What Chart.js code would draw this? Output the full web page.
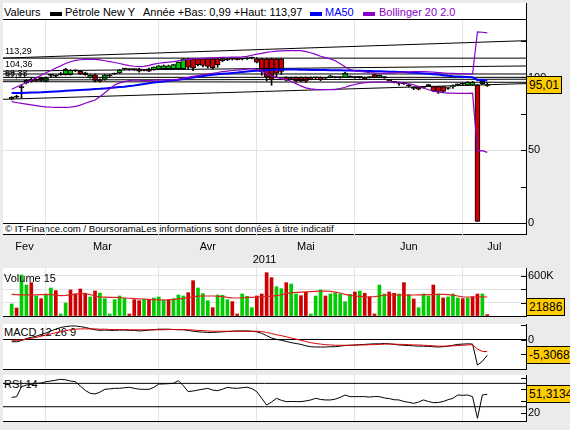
<!DOCTYPE html>
<html>
<head>
<meta charset="utf-8">
<title>Pétrole New York</title>
<script src="https://cdn.jsdelivr.net/npm/chart.js@4.4.1/dist/chart.umd.min.js"></script>
<style>
  html, body { margin: 0; padding: 0; }
  body { width: 570px; height: 430px; background: #ebebeb; position: relative; overflow: hidden;
         font-family: "Liberation Sans", Arial, sans-serif; font-size: 11px; color: #000; }
  .panel { position: absolute; left: 3px; width: 523px; background: #fff; border-right: 1px solid #000; }
  canvas { position: absolute; left: 3px; }
  .txt { position: absolute; white-space: nowrap; line-height: 13px; }
  .top { z-index: 2; }
  .mark { position: absolute; width: 12px; height: 4px; }
  .lvl { position: absolute; left: 5px; font-size: 9px; line-height: 10px; white-space: nowrap; }
  .box { position: absolute; left: 526px; height: 16px; line-height: 16px; padding: 0 2px;
         background: #ffcc00; border: 1px solid #000; font-size: 12px; white-space: nowrap; }
</style>
</head>
<body>
<div class="panel" style="top:3px;height:231px;border-bottom:1px solid #000"></div>
<div class="panel" style="top:268px;height:48px"></div>
<div class="panel" style="top:324px;height:45px"></div>
<div class="panel" style="top:375px;height:46px"></div>
<div style="position:absolute;left:3px;top:19px;width:523px;height:1px;background:#000"></div>

<div class="txt" style="left:4px;top:6px">Valeurs</div>
<div class="mark" style="left:50px;top:12px;background:#000"></div>
<div class="txt" style="left:65px;top:6px">Pétrole New Y</div>
<div class="txt" style="left:143px;top:6px">Année +Bas: 0,99 +Haut: 113,97</div>
<div class="mark" style="left:310px;top:12px;background:#0000ff"></div>
<div class="txt" style="left:325px;top:6px;color:#0000ff">MA50</div>
<div class="mark" style="left:363px;top:12px;background:#8a00c8"></div>
<div class="txt" style="left:379px;top:6px;color:#8a00c8">Bollinger 20 2.0</div>

<div class="txt" style="left:5px;top:223px;font-size:9.6px;line-height:11px">© IT-Finance.com / BoursoramaLes informations sont données à titre indicatif</div>
<div class="txt top" style="left:4px;top:272px">Volume 15</div>
<div class="txt" style="left:4px;top:326px">MACD 12 26 9</div>
<div class="txt" style="left:4px;top:378px">RSI 14</div>

<canvas id="cPrice" width="567" height="252" style="top:20px"></canvas>
<canvas id="cVol" width="567" height="49" style="top:268px"></canvas>
<canvas id="cMacd" width="567" height="46" style="top:324px"></canvas>
<canvas id="cRsi" width="567" height="47" style="top:375px"></canvas>

<script>
// Daily sessions, 17 Feb 2011 -> early July 2011 (index 0..97)
const monthStarts = [7, 30, 50, 70, 92];
const monthNames = ['Fev', 'Mar', 'Avr', 'Mai', 'Jun', 'Jul'];
const yearLabel = '2011';

const openP = [
  85.2, 86.5, 93.0, 96.2, 98.8, 98.8, 99.4, 97.4, 101.4, 101.0,
  101.9, 101.9, 101.9, 104.6, 104.3, 103.2, 100.1, 101.9, 98.4, 98.6,
  101.2, 102.4, 103.1, 105.7, 105.6, 105.5, 106.0, 105.1, 106.0, 105.4,
  105.9, 106.0, 106.0, 106.0, 106.0, 106.0, 112.9, 112.9, 112.9, 112.9,
  112.9, 112.9, 112.9, 112.9, 112.3, 112.7, 113.0, 112.6, 112.9, 113.4,
  112.9, 112.9, 112.9, 112.9, 112.9, 112.9, 100.1, 99.6, 100.1, 100.1,
  100.1, 100.1, 99.8, 100.1, 99.5, 100.1, 100.2, 100.0, 100.1, 100.5,
  100.2, 100.1, 100.1, 100.0, 102.0, 100.1, 100.1, 98.3, 96.9, 96.3,
  96.0, 94.6, 93.2, 93.6, 93.4, 94.8, 93.7, 93.7, 93.7, 92.6,
  93.5, 95.0, 95.5, 94.8, 94.8, 94.8, 95.7, 94.3
];
const highP = [
  86.8, 87.9, 95.0, 98.6, 99.4, 99.3, 99.9, 100.2, 102.2, 101.8,
  103.5, 106.3, 105.4, 105.3, 104.9, 103.6, 102.0, 102.3, 99.0, 102.0,
  101.9, 103.0, 105.4, 106.2, 106.0, 106.0, 106.3, 105.6, 106.4, 107.4,
  108.3, 108.6, 108.5, 109.1, 110.8, 113.1, 113.2, 113.2, 113.2, 113.2,
  113.2, 113.2, 113.2, 113.3, 113.0, 113.3, 113.6, 113.2, 113.5, 113.97,
  113.6, 113.2, 113.2, 113.2, 113.2, 113.2, 100.5, 100.3, 100.4, 100.4,
  100.4, 100.4, 100.3, 100.4, 100.0, 101.6, 100.6, 100.4, 103.5, 101.0,
  100.6, 100.5, 100.4, 100.6, 102.3, 101.8, 100.5, 98.6, 97.4, 96.8,
  96.5, 95.2, 93.6, 94.0, 93.9, 95.2, 94.0, 94.0, 94.0, 93.0,
  95.0, 95.5, 96.0, 97.2, 97.3, 95.2, 98.0, 96.5
];
const lowP = [
  84.6, 85.9, 86.0, 95.6, 96.8, 97.4, 97.4, 96.9, 100.0, 100.4,
  101.5, 101.6, 101.6, 104.0, 102.0, 101.5, 99.6, 96.9, 96.8, 98.2,
  100.6, 102.0, 102.8, 105.2, 105.0, 104.9, 103.6, 104.5, 104.0, 105.0,
  105.5, 105.6, 105.6, 105.6, 105.6, 105.6, 105.4, 104.7, 108.0, 107.2,
  106.5, 105.8, 107.0, 110.8, 111.6, 112.0, 112.0, 112.0, 112.4, 112.8,
  110.0, 101.5, 97.6, 94.6, 100.5, 102.0, 97.6, 99.0, 96.9, 97.0,
  96.6, 98.4, 99.2, 97.8, 99.0, 99.8, 99.7, 99.5, 99.8, 100.0,
  99.6, 99.5, 98.5, 99.6, 99.8, 99.8, 99.4, 97.4, 96.2, 94.6,
  95.2, 93.5, 91.6, 91.5, 92.6, 94.0, 90.2, 89.0, 89.5, 91.8,
  92.5, 94.5, 94.8, 94.5, 94.5, 0.99, 95.2, 93.8
];
const closeP = [
  86.3, 86.4, 93.4, 98.1, 97.4, 97.9, 97.9, 99.6, 101.6, 100.9,
  102.1, 105.8, 104.9, 104.8, 102.4, 101.9, 101.6, 97.9, 97.4, 101.6,
  101.4, 102.6, 105.0, 105.8, 105.5, 105.4, 104.3, 104.8, 104.3, 107.2,
  108.0, 108.0, 108.0, 108.8, 110.6, 112.9, 107.0, 106.5, 108.8, 108.3,
  107.6, 106.8, 108.8, 111.5, 112.1, 112.5, 112.3, 112.8, 113.0, 113.5,
  110.6, 104.0, 100.3, 98.5, 103.0, 104.2, 98.1, 99.4, 97.6, 97.6,
  97.4, 99.0, 99.9, 98.3, 99.6, 101.2, 100.0, 100.2, 103.1, 100.6,
  100.0, 100.2, 98.9, 100.1, 100.1, 101.4, 99.9, 97.8, 96.7, 95.9,
  95.6, 94.2, 92.4, 92.0, 93.2, 94.4, 90.7, 90.4, 90.4, 92.4,
  94.3, 95.2, 95.4, 96.7, 96.7, 1.0, 97.3, 95.01
];
const ma50 = [
  89.3, 89.3, 89.4, 89.5, 89.6, 89.7, 89.8, 90.0, 90.2, 90.4,
  90.6, 90.8, 91.0, 91.2, 91.4, 91.6, 91.8, 92.0, 92.2, 92.5,
  92.8, 93.1, 93.4, 93.7, 94.1, 94.5, 95.0, 95.5, 96.0, 96.5,
  96.9, 97.3, 97.7, 98.1, 98.5, 99.0, 99.5, 100.0, 100.5, 101.0,
  101.5, 101.9, 102.2, 102.5, 102.8, 103.1, 103.4, 103.8, 104.1, 104.4,
  104.6, 104.8, 105.0, 105.1, 105.3, 105.4, 105.4, 105.4, 105.4, 105.3,
  105.3, 105.2, 105.2, 105.1, 105.1, 105.0, 105.0, 104.9, 104.8, 104.8,
  104.7, 104.6, 104.5, 104.4, 104.3, 104.2, 104.1, 104.0, 103.9, 103.8,
  103.7, 103.5, 103.3, 103.0, 102.8, 102.6, 102.3, 102.0, 101.6, 101.2,
  100.9, 100.7, 100.5, 100.3, 100.1, 98.3, 98.2, 98.0
];
const bollUp = [
  91.9, 93.5, 95.0, 96.5, 98.2, 99.8, 101.5, 103.2, 104.8, 106.5,
  108.0, 109.6, 110.8, 111.8, 112.2, 112.5, 112.6, 112.5, 112.1, 111.5,
  110.9, 110.3, 109.6, 108.8, 108.2, 107.7, 107.5, 107.6, 108.3, 109.2,
  109.8, 110.2, 110.5, 110.9, 111.5, 112.1, 112.5, 112.8, 112.9, 113.1,
  113.3, 113.5, 113.7, 113.8, 113.9, 114.0, 114.0, 114.1, 114.5, 115.3,
  116.0, 116.6, 117.2, 117.7, 118.1, 118.3, 118.4, 118.5, 118.5, 118.4,
  117.8, 117.0, 115.9, 114.6, 113.6, 112.8, 111.5, 109.5, 107.4, 105.5,
  104.6, 104.1, 103.8, 103.4, 103.1, 102.9, 102.8, 103.0, 103.2, 103.5,
  103.7, 103.9, 104.0, 104.0, 104.0, 103.9, 103.7, 103.4, 103.1, 102.9,
  102.8, 102.7, 102.6, 102.5, 102.4, 131.3, 131.1, 130.6
];
const bollDn = [
  83.4, 82.8, 82.2, 81.7, 81.2, 80.7, 80.2, 79.8, 79.6, 79.5,
  79.5, 79.5, 79.6, 80.2, 81.0, 82.3, 83.4, 84.5, 86.8, 89.5,
  92.2, 94.8, 96.3, 97.2, 97.9, 98.3, 98.1, 97.8, 97.9, 98.1,
  98.2, 98.3, 98.4, 98.5, 98.9, 99.5, 100.1, 100.8, 101.3, 101.9,
  102.4, 102.9, 103.4, 104.0, 104.4, 104.8, 105.1, 105.4, 105.7, 106.0,
  105.6, 104.3, 102.8, 101.2, 100.1, 99.2, 98.5, 97.4, 95.8, 94.2,
  92.9, 92.2, 91.8, 91.6, 91.6, 91.6, 91.7, 92.4, 93.3, 94.4,
  95.2, 96.0, 96.4, 96.7, 96.9, 96.9, 96.9, 96.9, 96.9, 96.6,
  96.2, 95.6, 95.0, 93.8, 92.8, 91.6, 90.6, 90.0, 89.6, 89.3,
  89.2, 89.1, 89.1, 89.1, 89.2, 49.5, 49.7, 48.5
];
// support / resistance and channel lines: [startIndex, startValue, endIndex, endValue]
const trendLines = [
  [-1.77, 113.29, 104.9, 113.29],
  [-1.77, 113.29, 104.9, 125.3],
  [-1.77, 104.36, 104.9, 107.9],
  [-1.77, 102.4, 104.9, 102.4],
  [-1.77, 100.1, 104.9, 100.1],
  [-1.77, 98.3, 104.9, 98.8],
  [-1.77, 97.1, 104.9, 96.7],
  [-1.77, 85.0, 104.9, 95.8]
];
const levelLabels = ['113,29', '104,36', '98,33', '97,11'];
const levelValues = [113.29, 104.36, 98.3, 97.1];

// volume in thousands, 1 = up day
const volume = [
  180, 120, 615, 465, 500, 300, 260, 325, 420, 380,
  30, 195, 390, 330, 405, 325, 285, 375, 345, 260,
  30, 245, 300, 265, 30, 245, 230, 250, 250, 270,
  285, 240, 245, 260, 315, 300, 350, 530, 420, 335,
  230, 125, 315, 310, 245, 215, 30, 330, 295, 125,
  300, 330, 650, 575, 440, 410, 500, 480, 330, 305,
  355, 30, 300, 390, 300, 330, 345, 330, 215, 325,
  360, 375, 340, 290, 30, 465, 330, 360, 340, 330,
  500, 320, 255, 125, 330, 300, 465, 330, 270, 285,
  330, 270, 260, 270, 290, 330, 330, 21.886
];
const volUp = [
  1, 0, 1, 1, 0, 1, 0, 1, 1, 0,
  1, 1, 0, 0, 0, 0, 1, 0, 1, 1,
  1, 1, 1, 1, 0, 0, 0, 1, 0, 1,
  1, 1, 0, 1, 1, 1, 0, 0, 1, 1,
  1, 0, 1, 1, 1, 0, 0, 1, 1, 1,
  0, 0, 0, 0, 1, 1, 0, 1, 1, 0,
  0, 1, 1, 1, 0, 1, 1, 1, 1, 1,
  0, 1, 0, 0, 0, 1, 1, 0, 0, 1,
  0, 1, 0, 1, 1, 1, 0, 1, 0, 1,
  1, 1, 0, 1, 0, 0, 1, 0
];
const volMA15 = [
  325, 322, 318, 316, 315, 317, 320, 324, 322, 312,
  305, 308, 318, 328, 336, 340, 322, 300, 285, 282,
  280, 278, 275, 270, 266, 262, 258, 255, 250, 246,
  243, 240, 244, 250, 258, 265, 275, 288, 298, 300,
  300, 300, 299, 290, 280, 272, 270, 274, 278, 280,
  283, 286, 290, 298, 306, 315, 340, 348, 353, 358,
  362, 366, 370, 374, 375, 368, 358, 345, 325, 310,
  300, 294, 288, 285, 290, 300, 312, 315, 315, 316,
  315, 314, 315, 316, 318, 320, 322, 324, 325, 322,
  312, 300, 288, 285, 285, 285, 286, 285
];
const macd = [
  -0.7, -0.7, -0.3, 0.4, 0.8, 1.2, 1.8, 2.3, 3.0, 3.6,
  4.2, 4.5, 4.7, 4.7, 4.5, 4.2, 3.8, 3.4, 3.2, 3.3,
  3.2, 3.2, 3.3, 3.3, 3.2, 3.2, 3.0, 3.1, 3.3, 3.4,
  3.6, 3.6, 3.6, 3.5, 3.4, 3.4, 3.2, 2.9, 2.7, 2.6,
  2.5, 2.5, 2.6, 2.7, 2.8, 2.9, 3.0, 3.0, 3.0, 2.9,
  2.7, 2.2, 1.4, 0.6, 0.1, -0.2, -0.6, -1.0, -1.3, -1.6,
  -2.1, -2.4, -2.5, -2.5, -2.5, -2.4, -2.4, -2.2, -2.0, -1.9,
  -1.8, -1.7, -1.6, -1.5, -1.4, -1.4, -1.3, -1.4, -1.6, -1.8,
  -1.9, -2.0, -2.1, -2.2, -2.2, -2.3, -2.4, -2.5, -2.4, -2.2,
  -1.9, -1.6, -1.5, -1.4, -1.5, -8.7, -7.4, -5.3068
];
const macdSignal = [
  -0.2, -0.2, -0.1, 0.2, 0.5, 0.8, 1.2, 1.6, 2.0, 2.4,
  2.8, 3.1, 3.4, 3.6, 3.7, 3.7, 3.7, 3.7, 3.6, 3.6,
  3.5, 3.5, 3.5, 3.5, 3.4, 3.4, 3.4, 3.4, 3.4, 3.4,
  3.4, 3.4, 3.5, 3.5, 3.5, 3.5, 3.4, 3.3, 3.2, 3.1,
  3.0, 2.9, 2.9, 2.9, 2.9, 2.9, 2.9, 2.9, 2.9, 2.9,
  2.9, 2.8, 2.5, 2.1, 1.7, 1.4, 1.0, 0.6, 0.2, -0.2,
  -0.6, -1.0, -1.3, -1.5, -1.7, -1.8, -1.9, -1.9, -1.9, -1.9,
  -1.9, -1.8, -1.8, -1.7, -1.7, -1.6, -1.5, -1.5, -1.5, -1.6,
  -1.6, -1.7, -1.8, -1.8, -1.9, -2.0, -2.1, -2.2, -2.2, -2.2,
  -2.1, -2.0, -1.9, -1.8, -1.7, -3.2, -4.0, -4.1
];
const rsi = [
  46.1, 47.0, 64.3, 67.1, 68.0, 70.0, 70.5, 72.9, 74.0, 75.5,
  76.9, 76.0, 74.0, 72.9, 65.4, 58.0, 53.0, 51.8, 55.0, 59.8,
  60.5, 61.5, 61.5, 62.5, 63.2, 61.5, 60.0, 59.8, 59.8, 63.2,
  68.9, 69.0, 69.5, 70.0, 74.6, 66.0, 55.8, 57.0, 58.6, 60.0,
  61.5, 58.5, 57.5, 60.0, 63.2, 62.0, 61.5, 62.5, 63.5, 61.0,
  55.8, 44.4, 33.0, 38.0, 44.4, 41.0, 38.7, 39.0, 38.8, 38.7,
  40.0, 41.6, 44.4, 42.5, 41.6, 41.6, 43.0, 46.0, 50.1, 47.3,
  47.3, 47.3, 47.3, 46.5, 47.5, 47.3, 45.0, 44.0, 42.0, 41.6,
  39.0, 37.5, 35.8, 38.0, 41.6, 39.0, 37.0, 37.3, 39.0, 42.0,
  44.4, 50.1, 49.5, 50.1, 47.3, 10.2, 50.1, 51.3134
];
const rsiLevels = [70, 30];

const priceTicks = [0, 25, 50, 75, 100, 125];
const volTicks = [0, 200, 400, 600];
const macdTicks = [5, 0, -5, -10];
const rsiTicks = [80, 60, 40, 20];

// ---------------------------------------------------------------
Chart.defaults.font.family = '"Liberation Sans", Arial, sans-serif';
Chart.defaults.font.size = 11;
Chart.defaults.color = '#000';

const UP = '#00cc00', DOWN = '#cc0000', GRID = '#e3e3e3';
const BLUE = '#0000ff', PURPLE = '#8a00c8';
const X_MIN = -1.77, X_MAX = 104.9;
const idx = closeP.map((_, i) => i);
const xy = arr => arr.map((v, i) => ({ x: i, y: v }));

// month labels sit halfway between month starts
const edges = [X_MIN, ...monthStarts, X_MAX];
const monthMid = monthNames.map((_, k) => (edges[k] + edges[k + 1]) / 2);

function noPad(s) { s.paddingLeft = 0; s.paddingRight = 0; s.paddingTop = 0; s.paddingBottom = 0; }

function xAxis(height, tickLen) {
  return {
    type: 'linear', min: X_MIN, max: X_MAX, offset: false, weight: 0,
    afterBuildTicks: s => { s.ticks = monthStarts.map(v => ({ value: v })); },
    ticks: { display: false },
    grid: { color: GRID, offset: false, drawTicks: tickLen > 0, tickLength: tickLen, tickColor: GRID },
    border: { display: true, color: '#000' },
    afterFit: s => { s.height = height; noPad(s); }
  };
}

function yAxis(min, max, tickVals, label, gridColor) {
  return {
    position: 'right', min, max,
    afterBuildTicks: s => { s.ticks = tickVals.map(v => ({ value: v })); },
    ticks: { callback: label, padding: 2, autoSkip: false, maxRotation: 0 },
    grid: { color: c => gridColor(c.tick ? c.tick.value : null), drawTicks: false },
    border: { display: true, color: '#000' },
    afterFit: s => { s.width = 44; noPad(s); }
  };
}

// short tick marks drawn inside the plot against the right border
const innerTicks = {
  id: 'innerTicks',
  afterDraw(chart) {
    const s = chart.scales.y, ctx = chart.ctx, r = chart.chartArea.right;
    ctx.save();
    ctx.strokeStyle = '#000';
    ctx.lineWidth = 1;
    s.ticks.forEach(t => {
      const y = Math.round(s.getPixelForValue(t.value)) + 0.5;
      ctx.beginPath(); ctx.moveTo(r - 5, y); ctx.lineTo(r, y); ctx.stroke();
    });
    ctx.restore();
  }
};

const base = {
  responsive: false, animation: false, devicePixelRatio: 1,
  layout: { padding: 0, autoPadding: false },
  plugins: { legend: { display: false }, tooltip: { enabled: false } },
  elements: { point: { radius: 0 }, line: { tension: 0 } }
};

function line(data, color, width, order) {
  return { type: 'line', data, borderColor: color, borderWidth: width, pointRadius: 0, fill: false, order };
}

// ---- price panel
const candleColors = idx.map(i => Math.abs(closeP[i] - openP[i]) < 0.45 ? '#000' : (closeP[i] > openP[i] ? UP : DOWN));
const priceChart = new Chart(document.getElementById('cPrice'), {
  type: 'bar',
  data: {
    datasets: [
      ...trendLines.map(t => line([{ x: t[0], y: t[1] }, { x: t[2], y: t[3] }], '#000', 1, 2)),
      line(xy(ma50), BLUE, 2, 1),
      line(xy(bollUp), PURPLE, 1.2, 0),
      line(xy(bollDn), PURPLE, 1.2, 0),
      { type: 'bar', data: idx.map(i => ({ x: i, y: [openP[i], closeP[i]] })), backgroundColor: candleColors,
        borderColor: '#000', borderWidth: 1, borderSkipped: false, barThickness: 5, minBarLength: 1, grouped: false, order: 5 },
      { type: 'bar', data: idx.map(i => ({ x: i, y: [lowP[i], highP[i]] })), backgroundColor: '#000',
        barThickness: 1, grouped: false, order: 6 }
    ]
  },
  options: Object.assign({}, base, {
    scales: {
      x: xAxis(15, 14),
      xm: {
        type: 'linear', position: 'bottom', min: X_MIN, max: X_MAX, offset: false, weight: 1,
        afterBuildTicks: s => { s.ticks = monthMid.map(v => ({ value: v })); },
        ticks: { callback: (v, k) => monthNames[k], autoSkip: false, maxRotation: 0, padding: 2 },
        grid: { display: false, drawTicks: false, offset: false },
        border: { display: false },
        title: { display: true, text: yearLabel, padding: { top: 0, bottom: 5 } },
        afterFit: s => { s.height = 34; noPad(s); }
      },
      y: yAxis(0, 139.5, priceTicks, v => (v % 50 === 0 ? String(v) : ''),
        v => (v === 50 || v === 100 ? GRID : 'rgba(0,0,0,0)'))
    }
  }),
  plugins: [innerTicks]
});

// ---- volume panel
const volChart = new Chart(document.getElementById('cVol'), {
  type: 'bar',
  data: {
    datasets: [
      line(xy(volMA15), '#dd2222', 1.2, 0),
      { type: 'bar', data: xy(volume), backgroundColor: volUp.map(u => (u ? UP : DOWN)),
        barThickness: 3, grouped: false, order: 1 }
    ]
  },
  options: Object.assign({}, base, {
    scales: {
      x: xAxis(1, 0),
      y: yAxis(0, 720, volTicks, v => (v === 600 ? '600K' : ''), v => (v > 0 ? GRID : 'rgba(0,0,0,0)'))
    }
  }),
  plugins: [innerTicks]
});

// ---- MACD panel
const macdChart = new Chart(document.getElementById('cMacd'), {
  type: 'line',
  data: {
    datasets: [
      line(xy(macd), '#000', 1, 1),
      line(xy(macdSignal), '#dd0000', 1, 0)
    ]
  },
  options: Object.assign({}, base, {
    scales: {
      x: xAxis(1, 0),
      y: yAxis(-10.03, 5.38, macdTicks, v => (v === 0 ? '0' : ''), v => (v === 0 ? '#000' : 'rgba(0,0,0,0)'))
    }
  }),
  plugins: [innerTicks]
});

// ---- RSI panel
const rsiChart = new Chart(document.getElementById('cRsi'), {
  type: 'line',
  data: {
    datasets: [
      ...rsiLevels.map(v => line([{ x: X_MIN, y: v }, { x: X_MAX, y: v }], '#000', 1, 1)),
      line(xy(rsi), '#000', 1, 0)
    ]
  },
  options: Object.assign({}, base, {
    scales: {
      x: xAxis(1, 0),
      y: yAxis(5.6, 84.3, rsiTicks, v => (v === 20 ? '20' : ''), () => 'rgba(0,0,0,0)')
    }
  }),
  plugins: [innerTicks]
});

// ---- last-value boxes and level labels
function addDiv(cls, text, style) {
  const d = document.createElement('div');
  d.className = cls;
  d.textContent = text;
  Object.assign(d.style, style);
  document.body.appendChild(d);
  return d;
}
function lastBox(chart, canvasTop, value, text) {
  const area = chart.chartArea;
  let y = canvasTop + chart.scales.y.getPixelForValue(value) - 9;
  y = Math.max(canvasTop + area.top, Math.min(canvasTop + area.bottom - 18, y));
  addDiv('box', text, { top: Math.round(y) + 'px' });
}
lastBox(priceChart, 20, closeP[closeP.length - 1], '95,01');
lastBox(volChart, 268, volume[volume.length - 1], '21886');
lastBox(macdChart, 324, macd[macd.length - 1], '-5,3068');
lastBox(rsiChart, 375, rsi[rsi.length - 1], '51,3134');

levelValues.forEach((v, k) => {
  const y = 20 + priceChart.scales.y.getPixelForValue(v);
  addDiv('lvl', levelLabels[k], { top: Math.round(y - 12) + 'px' });
});
</script>
</body>
</html>
